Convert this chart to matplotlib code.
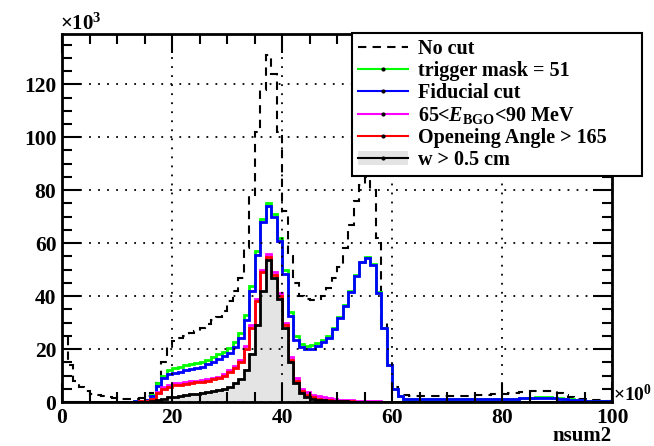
import matplotlib
matplotlib.use("Agg")
import matplotlib.pyplot as plt
import numpy as np
from matplotlib.lines import Line2D
from matplotlib.patches import Patch

plt.rcParams['font.family'] = ['Liberation Serif', 'DejaVu Serif']
plt.rcParams['font.weight'] = 'bold'
plt.rcParams['mathtext.fontset'] = 'custom'
plt.rcParams['mathtext.rm'] = 'Liberation Serif:bold'
plt.rcParams['mathtext.it'] = 'Liberation Serif:italic:bold'
plt.rcParams['mathtext.bf'] = 'Liberation Serif:bold'

# bin edges of nsum2 (1 unit bins, 0..100)
edges = np.arange(0, 101, 1)

# counts per bin, in units of 10^3
no_cut = [25, 14, 8, 5.5, 4, 3.2, 2.6, 2.2, 1.8, 1.5,
          1.3, 1.2, 1.2, 1.3, 1.6, 2.2, 3.5, 7, 15, 21,
          23, 24, 25, 26, 27, 28, 29.5, 31, 32, 34.5,
          38, 42, 47, 58, 78, 102, 118, 131, 124, 102,
          72, 55, 45, 40, 39, 38.5, 39, 40, 43, 47,
          51, 58, 67, 76, 82, 85, 80, 62, 30, 15,
          5.5, 3.4, 2.6, 2.3, 2.2, 2.2, 2.2, 2.2, 2.2, 2.2,
          2.2, 2.2, 2.2, 2.3, 2.4, 2.6, 2.7, 2.8, 2.9, 3.0,
          3.2, 3.4, 3.5, 3.7, 3.8, 4.0, 4.1, 4.2, 4.2, 4.0,
          3.5, 2.8, 2.0, 1.6, 1.3, 1.0, 0.8, 0.6, 0.5, 0.4]

trigger = [0, 0, 0, 0, 0, 0, 0, 0, 0, 0,
           0, 0, 0.1, 0.2, 0.4, 0.8, 2.6, 7, 10, 12,
           12.8, 13.3, 13.8, 14.3, 14.7, 15.2, 16, 17, 18, 19,
           20.5, 22.5, 26, 33, 44, 57, 69, 75, 71, 62,
           50, 34, 25, 22, 21.3, 21.5, 22.3, 23.5, 25, 28,
           32, 36.5, 42, 48, 53, 54.7, 52, 41.5, 28, 14,
           5, 2.2, 1.2, 1.0, 1.0, 1.0, 1.0, 1.0, 1.0, 1.0,
           1.0, 1.0, 1.0, 1.0, 1.0, 1.0, 1.0, 1.0, 1.0, 1.1,
           1.1, 1.2, 1.3, 1.4, 1.5, 1.6, 1.7, 1.7, 1.7, 1.6,
           1.4, 1.2, 1.0, 0.8, 0.6, 0.5, 0.4, 0.3, 0.3, 0.2]

fiducial = [0, 0, 0, 0, 0, 0, 0, 0, 0, 0,
            0, 0, 0.1, 0.2, 0.3, 0.6, 2.2, 6, 9, 10.5,
            11, 11.5, 12, 12.5, 13, 13.4, 14.2, 15.2, 16.2, 17.3,
            18.6, 20.6, 24, 31, 42, 55.5, 68, 74, 70, 61,
            48.5, 32.5, 23.5, 20.6, 20, 20.2, 21, 22.5, 24.3, 27.5,
            31.6, 36.2, 41.7, 47.7, 52.7, 54.5, 51.8, 41.3, 27.8, 13.8,
            4.9, 2.1, 1.2, 1.0, 1.0, 1.0, 1.0, 1.0, 1.0, 1.0,
            1.0, 1.0, 1.0, 1.0, 1.0, 1.0, 1.0, 1.0, 1.0, 1.0,
            1.1, 1.2, 1.3, 1.4, 1.5, 1.6, 1.6, 1.6, 1.6, 1.5,
            1.3, 1.1, 0.9, 0.7, 0.6, 0.5, 0.4, 0.3, 0.2, 0.2]

energy = [0, 0, 0, 0, 0, 0, 0, 0, 0, 0,
          0, 0, 0, 0.1, 0.2, 0.3, 1.2, 3.8, 5.7, 6.4,
          7, 7.3, 7.6, 7.9, 8.1, 8.3, 8.7, 9.1, 9.6, 10.5,
          12, 13.5, 16, 21, 29, 39, 50, 56, 49, 41,
          30, 17, 9, 5, 3.6, 2.8, 2.2, 1.7, 1.4, 1.1,
          0.9, 0.8, 0.6, 0.5, 0.4, 0.3, 0.25, 0.2, 0.15, 0.1,
          0.1, 0, 0, 0, 0, 0, 0, 0, 0, 0,
          0, 0, 0, 0, 0, 0, 0, 0, 0, 0,
          0, 0, 0, 0, 0, 0, 0, 0, 0, 0,
          0, 0, 0, 0, 0, 0, 0, 0, 0, 0]

angle = [0, 0, 0, 0, 0, 0, 0, 0, 0, 0,
         0, 0, 0, 0.1, 0.2, 0.3, 1.1, 3.4, 5, 5.8,
         6.3, 6.6, 6.9, 7.2, 7.4, 7.7, 8.1, 8.5, 9, 9.9,
         11.3, 12.8, 15, 20, 28, 38, 49, 54.7, 48, 40,
         29, 16, 8, 4, 2.5, 1.7, 1.2, 0.9, 0.7, 0.5,
         0.4, 0.3, 0.2, 0.15, 0.1, 0.1, 0, 0, 0, 0,
         0, 0, 0, 0, 0, 0, 0, 0, 0, 0,
         0, 0, 0, 0, 0, 0, 0, 0, 0, 0,
         0, 0, 0, 0, 0, 0, 0, 0, 0, 0,
         0, 0, 0, 0, 0, 0, 0, 0, 0, 0]

wcut = [0, 0, 0, 0, 0, 0, 0, 0, 0, 0,
        0, 0, 0, 0, 0, 0.1, 0.3, 0.8, 1.3, 1.7,
        2.0, 2.3, 2.6, 2.9, 3.2, 3.5, 3.8, 4.1, 4.5, 5.0,
        5.8, 7, 8.5, 12, 18, 29, 42, 53.6, 47, 39,
        28, 15, 7, 3.3, 2, 1.3, 0.9, 0.6, 0.45, 0.35,
        0.25, 0.2, 0.15, 0.1, 0.1, 0, 0, 0, 0, 0,
        0, 0, 0, 0, 0, 0, 0, 0, 0, 0,
        0, 0, 0, 0, 0, 0, 0, 0, 0, 0,
        0, 0, 0, 0, 0, 0, 0, 0, 0, 0,
        0, 0, 0, 0, 0, 0, 0, 0, 0, 0]

labels = ["No cut", "trigger mask = 51", "Fiducial cut",
          r"65<$\mathit{E}_{\mathrm{BGO}}$<90 MeV",
          "Openeing Angle > 165", "w > 0.5 cm"]

fig = plt.figure(figsize=(6.54, 4.46), dpi=100)
ax = fig.add_axes([62/654, 44/446, 550/654, 368/446])

ax.stairs(no_cut, edges, color='k', lw=1.5, linestyle=(0, (4, 3)))
ax.stairs(trigger, edges, color='#00ff00', lw=2)
ax.stairs(fiducial, edges, color='#0000ff', lw=2)
ax.stairs(energy, edges, color='#ff00ff', lw=2)
ax.stairs(angle, edges, color='#ff0000', lw=2)
ax.stairs(wcut, edges, fill=True, color='#e4e4e4')
ax.stairs(wcut, edges, color='k', lw=2)

ax.set_xlim(0, 100)
ax.set_ylim(0, 139)
ax.set_xticks(np.arange(0, 101, 20))
ax.set_yticks(np.arange(0, 121, 20))
ax.set_xticks(np.arange(0, 101, 5), minor=True)
ax.set_yticks(np.arange(0, 139, 5), minor=True)
ax.tick_params(which='both', direction='in', top=True, right=True, width=1.5)
ax.tick_params(which='major', length=14, labelsize=15.5, pad=4)
ax.tick_params(which='minor', length=7)
for lab in ax.get_xticklabels() + ax.get_yticklabels():
    lab.set_fontweight('bold')
ax.grid(True, which='major', color='k', linestyle=(0, (1, 4)), lw=1.3)
for s in ax.spines.values():
    s.set_linewidth(2)

fig.text(60/654, 1 - 30/446, r"$\times$10$^{3}$", fontsize=15, ha='left', va='baseline')
fig.text(613/654, 1 - 401/446, r"$\times$10$^{0}$", fontsize=14, ha='left', va='baseline')
fig.text(612/654, 1 - 441/446, "nsum2", fontsize=15, ha='right', va='baseline')

dot = dict(marker='o', ms=2, mfc='k', mec='k')
handles = [Line2D([], [], color='k', lw=1.5, linestyle=(0, (4, 3))),
           Line2D([], [], color='#00ff00', lw=1.5, **dot),
           Line2D([], [], color='#0000ff', lw=1.5, **dot),
           Line2D([], [], color='#ff00ff', lw=1.5, **dot),
           Line2D([], [], color='#ff0000', lw=1.5, **dot),
           (Patch(facecolor='#e4e4e4', edgecolor='none'),
            Line2D([], [], color='k', lw=1.5, **dot))]
leg = fig.legend(handles, labels, loc='upper left', mode='expand',
                 bbox_to_anchor=(352/654, 1 - 176/446, 290/654, 143/446),
                 bbox_transform=fig.transFigure,
                 prop={'family': 'Liberation Serif', 'weight': 'bold', 'size': 14.5},
                 frameon=True, fancybox=False, edgecolor='k', framealpha=1,
                 handlelength=2.5, handletextpad=0.5, labelspacing=0.1,
                 borderpad=0.3, borderaxespad=0)
leg.get_frame().set_linewidth(1.5)
fig.text(615/654, 1 - 128/446, "\u00b0", fontsize=8, ha='left', va='center')

fig.savefig("out.png", dpi=100)
